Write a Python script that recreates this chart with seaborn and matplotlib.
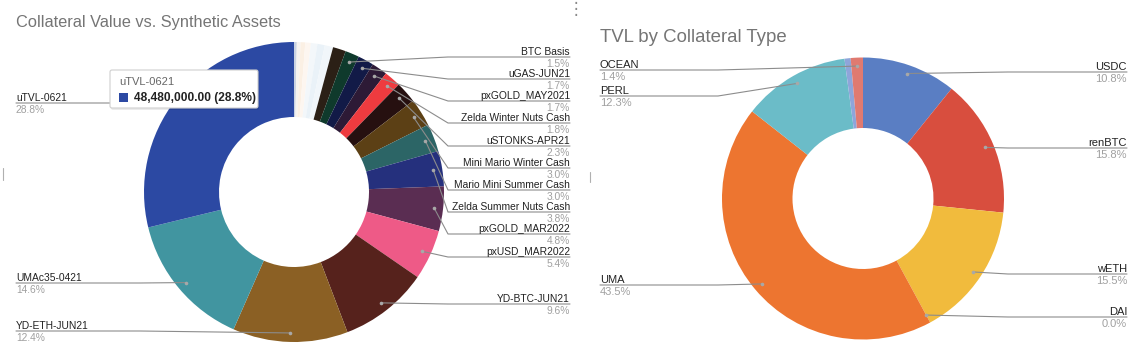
import numpy as np
import matplotlib
matplotlib.use("Agg")
import matplotlib.pyplot as plt
import seaborn as sns
from matplotlib.patches import FancyBboxPatch, Rectangle

# %%
# data: share of total (%) per slice, clockwise from 12 o'clock
synth_names = [None, None, None, None, None, None, None, None,
               "BTC Basis", "uGAS-JUN21", "pxGOLD_MAY2021", "Zelda Winter Nuts Cash",
               "uSTONKS-APR21", "Mini Mario Winter Cash", "Mario Mini Summer Cash",
               "Zelda Summer Nuts Cash", "pxGOLD_MAR2022", "pxUSD_MAR2022",
               "YD-BTC-JUN21", "YD-ETH-JUN21", "UMAc35-0421", "uTVL-0621"]
synth_share = [0.3, 0.4, 0.5, 0.6, 0.7, 0.8, 0.9, 1.4,
               1.5, 1.7, 1.7, 1.8, 2.3, 3.0, 3.0, 3.8, 4.8, 5.4,
               9.6, 12.4, 14.6, 28.8]
synth_colors = ["#c9d2e2", "#f6f3ef", "#fbf0e4", "#fdf6f0", "#f3f7fa", "#eaf2f8", "#f1f6fa", "#2b2016",
                "#0f3a2c", "#121a47", "#2d1a36", "#ee3b3f", "#261010", "#5c4015", "#2c6566",
                "#25307d", "#5a2d52", "#ee5a87", "#56221c", "#8b6024", "#4195a0", "#2c49a3"]

collat_names = ["USDC", "renBTC", "wETH", "DAI", "UMA", "PERL", None, "OCEAN"]
collat_share = [10.8, 15.8, 15.5, 0.0, 43.5, 12.3, 0.7, 1.4]
collat_colors = ["#5a7ec3", "#d84e3e", "#f1bb3d", "#5fa05a", "#ed7530", "#6bbcc8", "#8ea5da", "#e07a70"]

tooltip_name = "uTVL-0621"
tooltip_value = 48480000.00

# layout (pixels from top): y of each label's leader line
synth_label_y = {"BTC Basis": 57, "uGAS-JUN21": 79, "pxGOLD_MAY2021": 101,
                 "Zelda Winter Nuts Cash": 123, "uSTONKS-APR21": 146,
                 "Mini Mario Winter Cash": 168, "Mario Mini Summer Cash": 190,
                 "Zelda Summer Nuts Cash": 212, "pxGOLD_MAR2022": 234,
                 "pxUSD_MAR2022": 257, "YD-BTC-JUN21": 304, "YD-ETH-JUN21": 331,
                 "UMAc35-0421": 283, "uTVL-0621": 103}
collat_label_y = {"USDC": 72, "renBTC": 148, "wETH": 274, "DAI": 317,
                  "UMA": 285, "PERL": 96, "OCEAN": 70}

W, H = 1146, 357

sns.set_theme(style="white")
plt.rcParams['font.family'] = ['Liberation Sans', 'DejaVu Sans']

fig = plt.figure(figsize=(W / 100, H / 100), dpi=100)
ax = fig.add_axes([0, 0, 1, 1])


def donut(names, shares, colors, cx, cy, R, label_y, left_x, right_x, fs):
    cy = H - cy
    wedges, _ = ax.pie(shares, colors=colors, startangle=90, counterclock=False,
                       radius=R, center=(cx, cy),
                       wedgeprops=dict(width=R * 0.5, linewidth=0))
    total = sum(shares)
    for w, name, share in zip(wedges, names, shares):
        if name is None:
            continue
        mid = np.deg2rad((w.theta1 + w.theta2) / 2)
        dx = cx + 0.94 * R * np.cos(mid)
        dy = cy + 0.94 * R * np.sin(mid)
        ly = H - label_y[name]
        right = dx >= cx
        knee = cx + (R + 4) * (1 if right else -1)
        end = right_x if right else left_x
        ha = 'right' if right else 'left'
        ax.plot([dx, knee, end], [dy, ly, ly], color='#8c8c8c', lw=0.8, zorder=3)
        ax.plot(dx, dy, 'o', ms=2.6, color='#a8a8a8', mec='none', zorder=4)
        ax.text(end, ly + 2, name, ha=ha, va='baseline', fontsize=fs, color='#222222')
        ax.text(end, ly - 10, f"{share / total * 100:.1f}%", ha=ha, va='baseline',
                fontsize=fs, color='#a0a0a0')


donut(synth_names, synth_share, synth_colors, 294, 192, 150, synth_label_y, 16, 570, 7.4)
donut(collat_names, collat_share, collat_colors, 863, 198.5, 141, collat_label_y, 600, 1127, 8)

ax.text(16, H - 22, "Collateral Value vs. Synthetic Assets", fontsize=11.8,
        color='#757575', va='center', ha='left')
ax.text(600, H - 37, "TVL by Collateral Type", fontsize=13.4,
        color='#757575', va='center', ha='left')
ax.text(576, H - 9, "\u22ee", fontsize=12, color='#8a8a8a', ha='center', va='center',
        family='DejaVu Sans')

# tooltip over the largest slice
ax.add_patch(FancyBboxPatch((111, H - 110), 148, 38, boxstyle='round,pad=0,rounding_size=2',
                            fc='#000000', ec='none', alpha=0.08, zorder=5))
ax.add_patch(FancyBboxPatch((110, H - 108), 148, 38, boxstyle='round,pad=0,rounding_size=2',
                            fc='white', ec='#cfcfcf', lw=0.8, zorder=6))
ax.text(119, H - 82, tooltip_name, fontsize=8, color='#666666', va='center', zorder=7)
ax.add_patch(Rectangle((119, H - 102), 9, 9, fc=synth_colors[-1], ec='none', zorder=7))
ax.text(134, H - 97.5, f"{tooltip_value:,.2f} ({synth_share[-1] / sum(synth_share) * 100:.1f}%)",
        fontsize=8.6, fontweight='bold', color='#222222', va='center', zorder=7)

# small edge marks of the screenshot
ax.plot([3, 3], [H - 168, H - 180], color='#b0b0b0', lw=0.8)
ax.plot([590, 590], [H - 172, H - 182], color='#b0b0b0', lw=0.8)

ax.set_xlim(0, W)
ax.set_ylim(0, H)
ax.set_aspect('equal')
ax.axis('off')
plt.savefig('out.png', dpi=100)
